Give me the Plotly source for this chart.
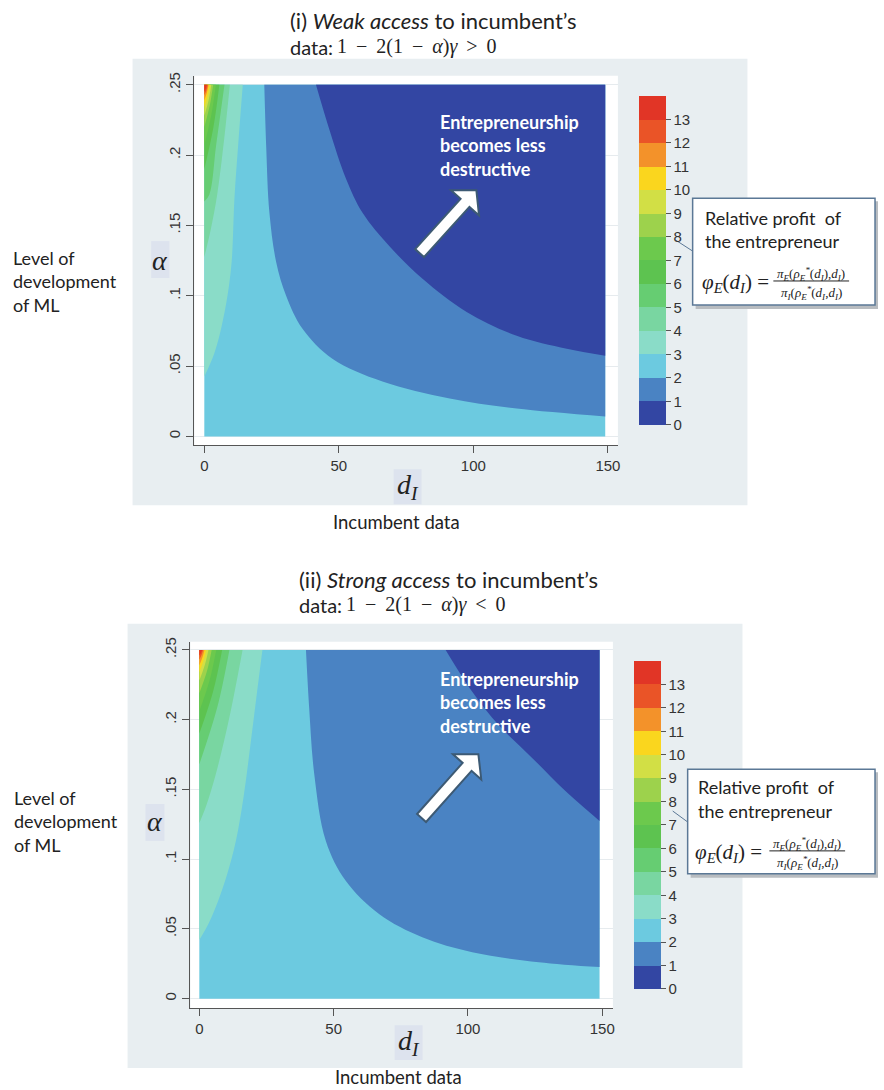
import plotly.graph_objects as go

W, H = 884, 1090

# ---------------- data ----------------
LEVEL_COLORS = ['#3346a3', '#4a83c3', '#6ccae0', '#8adcc8', '#79d6a1', '#66cd72', '#5dc350',
                '#6cc94d', '#9dd24c', '#d2df45', '#fad61e', '#f3922a', '#ea5427', '#e13526']
CBAR_TICKS = list(range(14))

D_TICKS = [0, 50, 100, 150]
A_TICKS = [0, 0.05, 0.1, 0.15, 0.2, 0.25]
A_TICKTEXT = ['0', '.05', '.1', '.15', '.2', '.25']

D_MAX = 149
A_MAX = 0.25

# Panel (i) weak access: level boundaries (d_I, alpha)
WEAK_LOW0_D = [41.5, 46.5, 52.7, 58.8, 68.9, 81.1, 97.5, 116.1, 134.7, 149]
WEAK_LOW0_A = [0.25, 0.218, 0.183, 0.159, 0.135, 0.112, 0.0885, 0.0715, 0.0623, 0.0574]
WEAK_LOW1_D = [22.3, 23.0, 24.2, 26.7, 30.4, 36.5, 47.6, 66.2, 91.2, 116.1, 149]
WEAK_LOW1_A = [0.25, 0.206, 0.159, 0.124, 0.100, 0.0765, 0.0552, 0.039, 0.0269, 0.0198, 0.0142]
WEAK_HIGH_LEVELS = [3, 4, 5, 6, 7, 8, 9, 10, 11, 12, 13]
WEAK_HIGH_D = [
    [14.3, 12.6, 11.2, 10.2, 8.7, 6.4, 3.7, 0],
    [9.5, 7.3, 4.8, 2.4, 0],
    [7.5, 4.5, 1.9, 0],
    [5.6, 3.4, 0],
    [4.3, 2.6, 0],
    [3.3, 2.0, 0],
    [2.6, 1.6, 0],
    [2.0, 1.2, 0],
    [1.6, 0.96, 0],
    [1.3, 0.78, 0],
    [0.9, 0.54, 0],
]
WEAK_HIGH_A = [
    [0.25, 0.2075, 0.169, 0.125, 0.101, 0.078, 0.059, 0.0425],
    [0.25, 0.21, 0.172, 0.147, 0.1275],
    [0.25, 0.2085, 0.172, 0.167],
    [0.25, 0.22, 0.19],
    [0.25, 0.2285, 0.207],
    [0.25, 0.235, 0.22],
    [0.25, 0.239, 0.228],
    [0.25, 0.242, 0.234],
    [0.25, 0.2445, 0.239],
    [0.25, 0.246, 0.2425],
    [0.25, 0.2475, 0.245],
]

# Panel (ii) strong access
STRONG_LOW0_D = [91.7, 101.6, 111.5, 123.9, 136.3, 149]
STRONG_LOW0_A = [0.25, 0.220, 0.196, 0.1726, 0.1488, 0.1274]
STRONG_LOW1_D = [39.7, 40.9, 42.8, 47.1, 54.5, 66.9, 83.0, 101.6, 126.4, 149]
STRONG_LOW1_A = [0.25, 0.2083, 0.1607, 0.1131, 0.0845, 0.0607, 0.044, 0.0333, 0.0261, 0.0226]
STRONG_HIGH_LEVELS = [3, 4, 5, 6, 7, 8, 9, 10, 11, 12, 13]
STRONG_HIGH_D = [
    [23.5, 21.5, 19.2, 16.5, 13.6, 10.5, 7.0, 3.5, 0],
    [16.1, 11.0, 6.0, 2.5, 0],
    [11.2, 6.7, 0],
    [8.5, 5.1, 0],
    [6.3, 3.8, 0],
    [4.6, 2.8, 0],
    [3.4, 2.0, 0],
    [2.5, 1.5, 0],
    [1.9, 1.14, 0],
    [1.4, 0.84, 0],
    [1.0, 0.6, 0],
]
STRONG_HIGH_A = [
    [0.25, 0.22, 0.1845, 0.145, 0.113, 0.09, 0.07, 0.054, 0.042],
    [0.25, 0.2, 0.16, 0.138, 0.126],
    [0.25, 0.209, 0.168],
    [0.25, 0.22, 0.19],
    [0.25, 0.228, 0.206],
    [0.25, 0.2345, 0.219],
    [0.25, 0.239, 0.228],
    [0.25, 0.242, 0.234],
    [0.25, 0.2445, 0.239],
    [0.25, 0.2465, 0.243],
    [0.25, 0.248, 0.246],
]

# ---------------- helpers ----------------
def px(x, y):
    return x / W, 1 - y / H


TEXT_FONT = 'Lato'
SERIF = 'Liberation Serif'
TICK_FONT = 'Liberation Sans'
BG_GRAY = '#e8eef1'
BOX_BLUE = '#dde3ee'

fig = go.Figure()


def band(ds, as_, edge_d, color, xa, ya):
    # invisible edge of the domain, then the smoothed level boundary filled to it
    fig.add_trace(go.Scatter(x=[edge_d, edge_d], y=[as_[0], as_[-1]], mode='lines',
                             line=dict(width=0), hoverinfo='skip', showlegend=False,
                             xaxis=xa, yaxis=ya))
    fig.add_trace(go.Scatter(x=ds, y=as_, mode='lines', fill='tonextx', fillcolor=color,
                             line=dict(width=0, color=color, shape='spline', smoothing=1.0),
                             hoverinfo='skip', showlegend=False, xaxis=xa, yaxis=ya))


def panel(low0d, low0a, low1d, low1a, levels, hd, ha, xa, ya):
    fig.add_trace(go.Scatter(x=[0, D_MAX, D_MAX, 0], y=[0, 0, A_MAX, A_MAX], fill='toself',
                             fillcolor=LEVEL_COLORS[2], mode='lines', line=dict(width=0),
                             hoverinfo='skip', showlegend=False, xaxis=xa, yaxis=ya))
    band(low1d, low1a, D_MAX, LEVEL_COLORS[1], xa, ya)
    band(low0d, low0a, D_MAX, LEVEL_COLORS[0], xa, ya)
    for lev, ds, as_ in zip(levels, hd, ha):
        band(ds, as_, 0, LEVEL_COLORS[lev], xa, ya)


panel(WEAK_LOW0_D, WEAK_LOW0_A, WEAK_LOW1_D, WEAK_LOW1_A,
      WEAK_HIGH_LEVELS, WEAK_HIGH_D, WEAK_HIGH_A, 'x', 'y')
panel(STRONG_LOW0_D, STRONG_LOW0_A, STRONG_LOW1_D, STRONG_LOW1_A,
      STRONG_HIGH_LEVELS, STRONG_HIGH_D, STRONG_HIGH_A, 'x2', 'y2')

cscale = []
for i, c in enumerate(LEVEL_COLORS):
    cscale.append([i / 14, c])
    cscale.append([(i + 1) / 14, c])


def colorbar_trace(xa, ya, left, top, bottom):
    fig.add_trace(go.Scatter(
        x=[D_MAX + 500], y=[A_MAX + 1], mode='markers', xaxis=xa, yaxis=ya, showlegend=False,
        hoverinfo='skip',
        marker=dict(size=1, color=[0], colorscale=cscale, cmin=0, cmax=14, showscale=True,
                    colorbar=dict(x=left / W, xanchor='left', xpad=0,
                                  y=1 - (top + bottom) / 2 / H, yanchor='middle', ypad=0,
                                  len=bottom - top, lenmode='pixels',
                                  thickness=27, thicknessmode='pixels',
                                  outlinewidth=0, tickvals=CBAR_TICKS, ticks='outside',
                                  ticklen=5, tickcolor='#555',
                                  tickfont=dict(family=TICK_FONT, size=15, color='#333')))))


colorbar_trace('x', 'y', 641, 92.7, 421.7)
colorbar_trace('x2', 'y2', 636, 660, 988)


def axes(xl, xr_, ybot, ytop, x0px, x150px, a0px, a25px, xanchor, yanchor):
    pxd = (x150px - x0px) / 150.0
    pxa = (a0px - a25px) / 0.25
    xr = [(xl - x0px) / pxd, (xr_ - x0px) / pxd]
    yr = [(a0px - ybot) / pxa, (a0px - ytop) / pxa]
    xd = [xl / W, xr_ / W]
    yd = [1 - ybot / H, 1 - ytop / H]
    xaxis = dict(domain=xd, range=xr, anchor=yanchor, showgrid=False, zeroline=False, showline=True,
                 linecolor='#555', linewidth=1, ticks='outside', ticklen=7, tickcolor='#555',
                 tickvals=D_TICKS, tickfont=dict(family=TICK_FONT, size=15, color='#333'),
                 fixedrange=True)
    yaxis = dict(domain=yd, range=yr, anchor=xanchor, showgrid=True, gridcolor='#e6ebee', gridwidth=1,
                 zeroline=False, showline=True, linecolor='#555', linewidth=1,
                 ticks='outside', ticklen=7, tickcolor='#555', tickvals=A_TICKS,
                 ticktext=A_TICKTEXT, tickangle=-90,
                 tickfont=dict(family=TICK_FONT, size=15, color='#333'), fixedrange=True)
    return xaxis, yaxis


xa1, ya1 = axes(195, 620, 443, 72, 205, 610, 434, 81, 'x', 'y')
xa2, ya2 = axes(191, 615, 1008, 640, 200, 604.3, 998.3, 648.3, 'x2', 'y2')

shapes = []


def rect(x0, y0, x1, y1, fill, line=None, lw=0, layer='below'):
    a = px(x0, y0)
    b = px(x1, y1)
    shapes.append(dict(type='rect', xref='paper', yref='paper', x0=a[0], y0=b[1], x1=b[0], y1=a[1],
                       fillcolor=fill, line=dict(color=line or fill, width=lw), layer=layer))


def seg(x0, y0, x1, y1, color, lw):
    a = px(x0, y0)
    b = px(x1, y1)
    shapes.append(dict(type='line', xref='paper', yref='paper', x0=a[0], y0=a[1], x1=b[0], y1=b[1],
                       line=dict(color=color, width=lw), layer='above'))


def arrow(tail, tip, w=6, hl=17, hw=19):
    ux, uy = tip[0] - tail[0], tip[1] - tail[1]
    L = (ux ** 2 + uy ** 2) ** 0.5
    ux, uy = ux / L, uy / L
    nx, ny = -uy, ux
    bx, by = tip[0] - ux * hl, tip[1] - uy * hl
    pts = [(tail[0] + nx * w, tail[1] + ny * w), (bx + nx * w, by + ny * w),
           (bx + nx * hw, by + ny * hw), tip, (bx - nx * hw, by - ny * hw),
           (bx - nx * w, by - ny * w), (tail[0] - nx * w, tail[1] - ny * w)]
    path = 'M ' + ' L '.join('%f,%f' % px(*p) for p in pts) + ' Z'
    shapes.append(dict(type='path', xref='paper', yref='paper', path=path, fillcolor='white',
                       line=dict(color='#3d5a74', width=2), layer='above'))


# gray panels and white plot areas
rect(133, 55, 750, 503, BG_GRAY)
rect(195, 72, 620, 443, 'white')
rect(128, 622, 745, 1068, BG_GRAY)
rect(191, 640, 615, 1008, 'white')
# axis title boxes
rect(151.7, 238, 170, 275, BOX_BLUE)
rect(395, 467, 423, 502, BOX_BLUE)
rect(146, 803, 165, 840, BOX_BLUE)
rect(396, 1025, 424, 1060, BOX_BLUE)

arrow((421, 250), (478, 187))
arrow((423, 817), (480, 753))


def callout(x0, y0, x1, y1, pointer):
    rect(x0 + 3, y0 + 3, x1 + 3, y1 + 4, '#b8bcc0', layer='above')
    rect(x0, y0, x1, y1, 'white', line='#5b7896', lw=1.5, layer='above')
    seg(pointer[0], pointer[1], x0, pointer[1] + 11, '#5b7896', 1)


callout(695, 195, 878, 302, (678, 237))
callout(690, 768, 878, 873, (675, 810))

annots = []


def text(x, y, s, size=18, family=TEXT_FONT, color='#222', xanchor='left', align='left', bold=False):
    a = px(x, y)
    annots.append(dict(x=a[0], y=a[1], xref='paper', yref='paper', text=s, showarrow=False,
                       xanchor=xanchor, yanchor='middle', align=align,
                       font=dict(family=family, size=size, color=color,
                                 weight='bold' if bold else 'normal')))


TS = '\u2009'
MATH_I = '1 ' + TS + '−' + TS + ' 2(1 ' + TS + '−' + TS + ' <i>α</i>)<i>γ</i> ' + TS + '&gt;' + TS + ' 0'
MATH_II = '1 ' + TS + '−' + TS + ' 2(1 ' + TS + '−' + TS + ' <i>α</i>)<i>γ</i> ' + TS + '&lt;' + TS + ' 0'

NUM = '<i>π<sub>E</sub></i>(<i>ρ<sub>E</sub><sup>*</sup></i>(<i>d<sub>I</sub></i>),<i>d<sub>I</sub></i>)'
DEN = '<i>π<sub>I</sub></i>(<i>ρ<sub>E</sub><sup>*</sup></i>(<i>d<sub>I</sub></i>,<i>d<sub>I</sub></i>)'
PHI = '<i>φ<sub>E</sub></i>(<i>d<sub>I</sub></i>) ='

# panel (i) texts
text(289, 17, '(i) <i>Weak access</i> to incumbent’s', size=22)
text(289, 43, 'data:', size=20)
text(336, 43, MATH_I, size=20, family=SERIF)
text(11, 279, 'Level of<br>development<br>of ML', size=18)
text(161, 257, '<i>α</i>', size=28, family=SERIF, xanchor='center')
text(409, 484, '<i>d<sub>I</sub></i>', size=28, family=SERIF, xanchor='center')
text(398, 520, 'Incumbent data', size=18.5, xanchor='center')
text(439, 142, 'Entrepreneurship<br>becomes less<br>destructive', size=18, color='white', bold=True)
text(705, 215, 'Relative profit  of', size=18)
text(705, 238, 'the entrepreneur', size=18)
text(702, 280, PHI, size=21, family=SERIF)
text(814, 271, NUM, size=13, family=SERIF, xanchor='center')
text(814, 290, DEN, size=13, family=SERIF, xanchor='center')
seg(776, 278, 852, 278, '#222', 1)

# panel (ii) texts
text(298, 578, '(ii) <i>Strong access</i> to incumbent’s', size=22)
text(298, 603, 'data:', size=20)
text(345, 603, MATH_II, size=20, family=SERIF)
text(12, 821, 'Level of<br>development<br>of ML', size=18)
text(155.5, 821, '<i>α</i>', size=28, family=SERIF, xanchor='center')
text(410, 1042, '<i>d<sub>I</sub></i>', size=28, family=SERIF, xanchor='center')
text(400, 1077, 'Incumbent data', size=18.5, xanchor='center')
text(439, 701, 'Entrepreneurship<br>becomes less<br>destructive', size=18, color='white', bold=True)
text(698, 786, 'Relative profit  of', size=18)
text(698, 810, 'the entrepreneur', size=18)
text(695, 852, PHI, size=21, family=SERIF)
text(810, 843, NUM, size=13, family=SERIF, xanchor='center')
text(810, 862, DEN, size=13, family=SERIF, xanchor='center')
seg(772, 850, 848, 850, '#222', 1)

fig.update_layout(
    width=W, height=H, autosize=False,
    margin=dict(l=0, r=0, t=0, b=0),
    paper_bgcolor='white', plot_bgcolor='rgba(0,0,0,0)',
    showlegend=False,
    xaxis=xa1, yaxis=ya1, xaxis2=xa2, yaxis2=ya2,
    shapes=shapes, annotations=annots,
)

fig.write_html('out.html', config={'displayModeBar': False},
               post_script="document.body.style.margin='0';")
